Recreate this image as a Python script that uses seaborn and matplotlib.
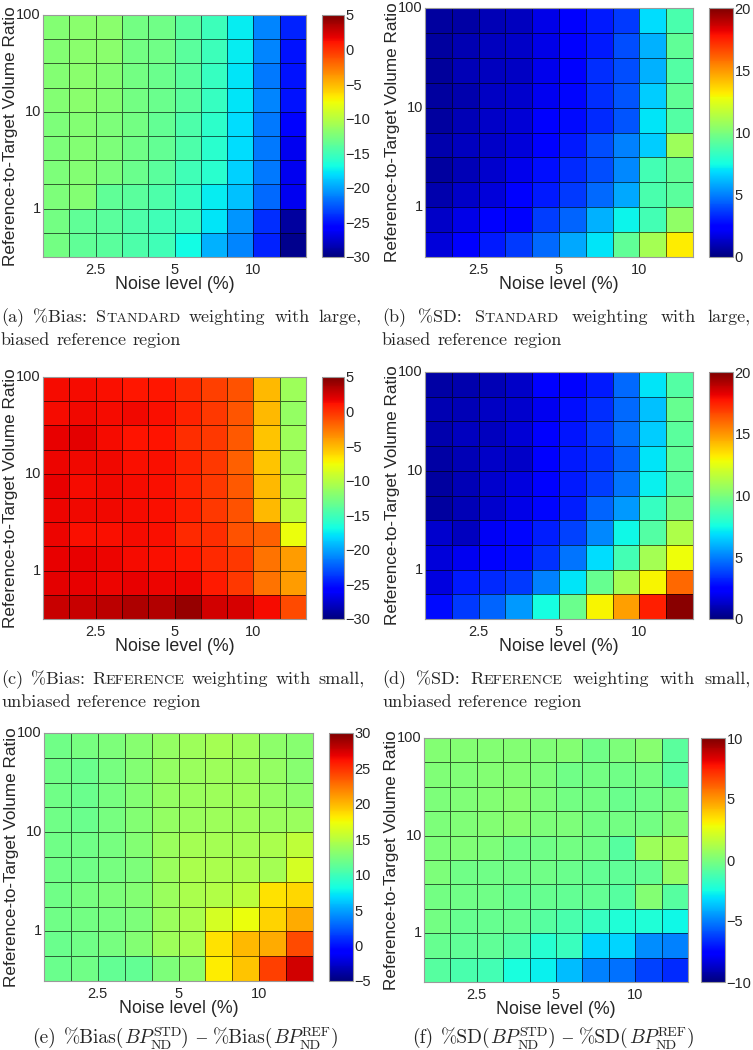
import numpy as np
import pandas as pd
import seaborn as sns
import matplotlib.pyplot as plt

# ---------------- data ----------------
noise_levels = ["1.8", "2.2", "2.8", "3.5", "4.5", "5.6", "7.1", "8.9", "11.2", "14.1"]
volume_ratios = ["75", "42", "24", "13", "7.5", "4.2", "2.4", "1.3", "0.75", "0.42"]
x_tick_labels = ["2.5", "5", "10"]
y_tick_labels = ["100", "10", "1"]

bias_std = [
    [-12.2, -11.9, -11.9, -12.8, -13.0, -14.0, -15.2, -17.5, -21.0, -24.5],
    [-12.2, -11.9, -11.9, -12.8, -13.0, -14.0, -15.2, -17.5, -21.0, -25.0],
    [-12.2, -11.9, -12.2, -12.8, -13.2, -14.0, -15.5, -17.8, -21.5, -25.0],
    [-12.2, -11.9, -12.2, -12.8, -13.2, -14.0, -15.5, -17.8, -21.0, -25.0],
    [-12.4, -12.2, -12.4, -12.8, -13.5, -14.5, -15.8, -18.0, -21.5, -25.5],
    [-12.4, -12.2, -12.4, -13.0, -13.5, -14.5, -16.0, -18.0, -21.5, -26.5],
    [-12.4, -12.2, -12.6, -13.2, -14.0, -15.0, -16.0, -18.5, -21.5, -26.5],
    [-12.4, -12.2, -13.7, -14.0, -14.5, -15.5, -17.5, -19.0, -22.0, -26.5],
    [-12.8, -13.7, -14.0, -14.5, -15.0, -15.5, -17.8, -20.5, -24.0, -29.0],
    [-12.8, -13.7, -14.0, -14.5, -15.0, -17.0, -19.5, -21.0, -24.5, -29.5],
]
sd_std = [
    [0.6, 0.7, 1.0, 1.1, 1.8, 2.3, 3.0, 3.6, 6.8, 8.8],
    [0.6, 0.9, 1.1, 1.3, 1.8, 2.4, 3.0, 4.0, 6.0, 9.3],
    [0.5, 1.0, 1.1, 1.2, 1.9, 2.5, 3.4, 4.0, 6.0, 9.0],
    [0.6, 0.8, 1.2, 1.4, 2.0, 2.6, 3.4, 4.2, 6.5, 9.3],
    [0.6, 1.0, 1.3, 1.5, 2.2, 2.7, 3.3, 4.2, 7.0, 9.0],
    [0.8, 1.1, 1.3, 1.6, 2.5, 3.0, 4.0, 5.0, 6.5, 10.8],
    [0.6, 1.0, 1.4, 1.9, 2.8, 3.3, 4.0, 5.2, 8.6, 9.3],
    [0.8, 1.3, 1.6, 2.3, 3.0, 3.6, 4.6, 5.8, 8.8, 9.2],
    [1.3, 1.8, 2.3, 2.5, 3.7, 4.5, 6.0, 7.3, 8.6, 10.5],
    [1.6, 2.2, 3.0, 3.6, 4.6, 5.8, 7.0, 9.3, 11.0, 13.2],
]
bias_ref = [
    [1.4, 1.4, 1.3, 0.9, 1.0, 0.3, -0.6, -1.2, -5.0, -11.0],
    [1.4, 1.5, 1.4, 1.5, 1.2, 0.5, -0.3, -1.3, -5.0, -11.5],
    [1.8, 1.9, 1.4, 1.1, 1.1, 0.2, -0.2, -1.5, -5.5, -11.0],
    [1.6, 1.5, 1.5, 1.2, 1.3, 0.6, -0.3, -1.8, -5.5, -11.0],
    [1.8, 1.4, 1.5, 1.4, 1.3, 0.5, -0.2, -1.5, -5.0, -10.5],
    [1.6, 1.5, 1.5, 1.4, 1.3, 0.7, -0.2, -1.2, -5.0, -10.0],
    [1.6, 1.3, 1.3, 1.4, 1.3, 0.3, 0.1, -1.2, -1.8, -7.8],
    [1.8, 1.8, 1.6, 1.4, 1.3, 1.0, 0.3, -0.3, -2.5, -4.0],
    [1.9, 1.8, 1.7, 1.8, 1.6, 1.6, 0.8, -0.3, -2.5, -4.0],
    [2.7, 2.7, 3.1, 3.6, 3.4, 4.2, 2.5, 2.3, 1.4, -1.0],
]
sd_ref = [
    [0.7, 0.8, 1.0, 1.3, 2.2, 2.5, 3.0, 4.6, 7.0, 9.0],
    [0.9, 1.0, 1.2, 1.4, 2.0, 2.8, 3.4, 4.6, 6.3, 9.5],
    [0.8, 1.1, 1.1, 1.5, 2.2, 2.9, 3.6, 4.7, 6.5, 9.2],
    [0.7, 1.0, 1.3, 1.3, 2.2, 3.0, 3.5, 4.5, 7.0, 9.3],
    [0.6, 1.0, 1.4, 1.7, 2.5, 3.0, 3.7, 4.8, 7.2, 9.2],
    [0.6, 1.0, 1.4, 1.8, 2.6, 3.1, 4.5, 5.5, 8.3, 9.8],
    [1.4, 1.1, 2.1, 2.6, 3.1, 3.8, 5.2, 7.4, 9.0, 11.2],
    [1.6, 2.0, 2.5, 2.7, 3.5, 4.8, 6.8, 8.6, 11.0, 12.8],
    [1.7, 3.0, 3.3, 3.6, 5.0, 7.0, 9.5, 11.0, 13.0, 16.0],
    [2.7, 3.6, 4.5, 5.5, 7.5, 9.6, 13.0, 14.8, 17.5, 19.8],
]
bias_diff = [
    [12.0, 12.3, 12.5, 13.0, 13.5, 14.0, 14.2, 14.0, 13.3, 13.0],
    [12.0, 11.8, 12.3, 12.8, 13.5, 13.8, 14.0, 13.8, 13.5, 13.0],
    [12.0, 11.8, 12.3, 12.8, 13.5, 13.8, 14.0, 14.0, 13.5, 13.3],
    [12.0, 11.8, 12.3, 12.8, 13.5, 13.8, 14.0, 14.0, 13.8, 13.8],
    [12.0, 12.0, 12.3, 12.8, 13.8, 14.2, 14.2, 14.2, 14.5, 15.3],
    [12.0, 12.0, 12.3, 12.5, 13.8, 14.5, 14.5, 14.5, 14.2, 16.3],
    [12.0, 12.3, 12.5, 12.8, 13.8, 14.5, 14.8, 15.2, 18.5, 18.8],
    [12.0, 12.2, 12.3, 12.5, 13.8, 14.5, 16.3, 17.2, 19.0, 20.5],
    [11.8, 12.0, 12.3, 12.8, 14.0, 14.3, 18.5, 20.0, 20.5, 24.0],
    [11.8, 12.0, 11.5, 11.5, 12.5, 13.3, 18.0, 19.5, 24.5, 27.5],
]
sd_diff = [
    [0.2, 0.2, 0.2, 0.2, 0.1, 0.2, -0.3, 0.0, 0.3, -0.8],
    [0.1, 0.1, 0.2, 0.2, 0.0, -0.3, -0.2, -0.3, -0.2, -0.8],
    [0.0, 0.1, 0.2, 0.3, 0.0, -0.2, -0.2, -0.4, -0.3, -0.1],
    [0.0, 0.1, 0.2, 0.3, 0.0, 0.0, -0.2, -0.2, -0.2, 0.2],
    [0.0, 0.1, 0.0, -0.3, -0.3, -0.2, -0.3, -0.9, 0.8, 1.0],
    [0.0, -0.3, -0.3, -0.3, -0.3, -0.4, -0.6, -0.7, -0.6, 0.6],
    [-0.2, -0.3, -0.3, -0.5, -0.5, -0.6, -0.6, -0.9, 0.2, -0.9],
    [-0.2, -0.5, -0.5, -0.5, -0.9, -1.2, -1.7, -2.2, -2.2, -2.6],
    [-0.5, -0.7, -0.7, -1.0, -2.1, -1.6, -3.3, -3.3, -4.7, -5.0],
    [-0.9, -1.2, -1.4, -2.4, -2.8, -3.8, -5.0, -5.3, -6.2, -6.7],
]

cticks_bias = [-30, -25, -20, -15, -10, -5, 0, 5]
cticks_sd = [0, 5, 10, 15, 20]
cticks_bias_diff = [-5, 0, 5, 10, 15, 20, 25, 30]
cticks_sd_diff = [-10, -5, 0, 5, 10]

# ---------------- layout ----------------
sns.set_theme(style="white")
plt.rcParams["font.family"] = ["Liberation Sans", "DejaVu Sans"]
plt.rcParams["mathtext.fontset"] = "cm"

W, H = 753, 1050
fig = plt.figure(figsize=(W / 100, H / 100), dpi=100)
fig.patch.set_facecolor("white")


def rect(x0, y0, x1, y1):
    return [x0 / W, 1 - y1 / H, (x1 - x0) / W, (y1 - y0) / H]


panels = [
    (bias_std, -30, 5, cticks_bias, (43, 15, 306, 257), (322, 15, 344, 257)),
    (sd_std, 0, 20, cticks_sd, (425, 8, 693, 257), (709, 8, 733, 257)),
    (bias_ref, -30, 5, cticks_bias, (43, 377, 306, 619), (322, 377, 344, 619)),
    (sd_ref, 0, 20, cticks_sd, (425, 372, 693, 619), (709, 372, 733, 619)),
    (bias_diff, -5, 30, cticks_bias_diff, (44, 733, 313, 981), (329, 733, 353, 981)),
    (sd_diff, -10, 10, cticks_sd_diff, (424, 738, 688, 982), (701, 738, 725, 982)),
]

for data, vmin, vmax, cticks, hm, cb in panels:
    ax = fig.add_axes(rect(*hm))
    cax = fig.add_axes(rect(*cb))
    df = pd.DataFrame(data, index=volume_ratios, columns=noise_levels)
    sns.heatmap(df, ax=ax, cmap="jet", vmin=vmin, vmax=vmax, cbar_ax=cax,
                linewidths=0.6, linecolor=(0, 0, 0, 0.6),
                cbar_kws={"ticks": cticks})
    ax.set_xticks([2, 5, 8])
    ax.set_xticklabels(x_tick_labels, rotation=0, fontsize=10.5)
    ax.set_yticks([0, 4, 8])
    ax.set_yticklabels(y_tick_labels, rotation=0, fontsize=10.5)
    ax.tick_params(axis="x", length=0, pad=4)
    ax.tick_params(axis="y", length=0, pad=1.5)
    for s in ax.spines.values():
        s.set_visible(True)
        s.set_color("#9a9a9a")
        s.set_linewidth(0.8)
    wpx = hm[2] - hm[0]
    hpx = hm[3] - hm[1]
    ax.set_xlabel("Noise level (%)", fontsize=12.8)
    ax.set_ylabel("Reference-to-Target Volume Ratio", fontsize=12.3)
    ax.xaxis.set_label_coords(0.5, -19 / hpx)
    ax.yaxis.set_label_coords(-25 / wpx, 0.5)
    cbar = ax.collections[0].colorbar
    cbar.outline.set_visible(True)
    cbar.outline.set_linewidth(0.8)
    cbar.outline.set_edgecolor("#9a9a9a")
    cax.tick_params(length=0, pad=1, labelsize=10.5)

# ---------------- captions ----------------
renderer = fig.canvas.get_renderer()
CAP = 13
SC = 10.2


def measure(txt, size, family="cmr10"):
    t = fig.text(0, 0, txt, fontsize=size, family=family)
    w = t.get_window_extent(renderer).width
    t.remove()
    return w


def draw_line(words, x0, ybase, width=None):
    wws = [sum(measure(t, s) for t, s in wd) for wd in words]
    space = measure("a a", CAP) - measure("aa", CAP)
    if width is not None and len(words) > 1:
        space = (width - sum(wws)) / (len(words) - 1)
    x = x0
    for wd, ww in zip(words, wws):
        xx = x
        for t, s in wd:
            fig.text(xx / W, 1 - ybase / H, t, fontsize=s, family="cmr10",
                     va="baseline", ha="left")
            xx += measure(t, s)
        x += ww + space


def sc(first, rest):
    return [(first, CAP), (rest, SC)]


def plain(s):
    return [[(w, CAP)] for w in s.split(" ")]


cap_a = plain("(a) %Bias:") + [sc("S", "TANDARD")] + plain("weighting with large,")
cap_b = plain("(b) %SD:") + [sc("S", "TANDARD")] + plain("weighting with large,")
cap_c = plain("(c) %Bias:") + [sc("R", "EFERENCE")] + plain("weighting with small,")
cap_d = plain("(d) %SD:") + [sc("R", "EFERENCE")] + plain("weighting with small,")

draw_line(cap_a, 1, 322, 361)
draw_line(plain("biased reference region"), 1, 345)
draw_line(cap_b, 382, 322, 369)
draw_line(plain("biased reference region"), 382, 345)
draw_line(cap_c, 1, 684, 364)
draw_line(plain("unbiased reference region"), 1, 707)
draw_line(cap_d, 382, 684, 369)
draw_line(plain("unbiased reference region"), 382, 707)

FAMILY = {"t": "cmr10", "m": "cmmi10", "d": "Liberation Serif"}


def draw_formula(tokens, xc, ybase, size):
    em = size * 100 / 72
    small = size * 0.72
    widths = []
    for tk in tokens:
        kind = tk[0]
        if kind in FAMILY:
            widths.append(measure(tk[1], size, FAMILY[kind]))
        elif kind == "ss":
            widths.append(max(measure(tk[1], small), measure(tk[2], small)) + 1.5)
        else:
            widths.append(tk[1])
    x = xc - sum(widths) / 2
    for tk, w in zip(tokens, widths):
        kind = tk[0]
        if kind in FAMILY:
            fig.text(x / W, 1 - ybase / H, tk[1], fontsize=size, family=FAMILY[kind],
                     va="baseline", ha="left")
        elif kind == "ss":
            fig.text((x + 1.5) / W, 1 - (ybase - 0.36 * em) / H, tk[1], fontsize=small,
                     family="cmr10", va="baseline", ha="left")
            fig.text((x - 0.5) / W, 1 - (ybase + 0.30 * em) / H, tk[2], fontsize=small,
                     family="cmr10", va="baseline", ha="left")
        x += w


FS = 14
cap_e = [("t", "(e)"), ("sp", 8), ("t", "%Bias("), ("m", "BP"), ("ss", "STD", "ND"),
         ("t", ")"), ("sp", 7), ("d", "\u2013"), ("sp", 7), ("t", "%Bias("), ("m", "BP"),
         ("ss", "REF", "ND"), ("t", ")")]
cap_f = [("t", "(f)"), ("sp", 8), ("t", "%SD("), ("m", "BP"), ("ss", "STD", "ND"),
         ("t", ")"), ("sp", 7), ("d", "\u2013"), ("sp", 7), ("t", "%SD("), ("m", "BP"),
         ("ss", "REF", "ND"), ("t", ")")]
draw_formula(cap_e, 185, 1043, FS)
draw_formula(cap_f, 553, 1043, FS)

fig.savefig("out.png", dpi=100, facecolor="white")
